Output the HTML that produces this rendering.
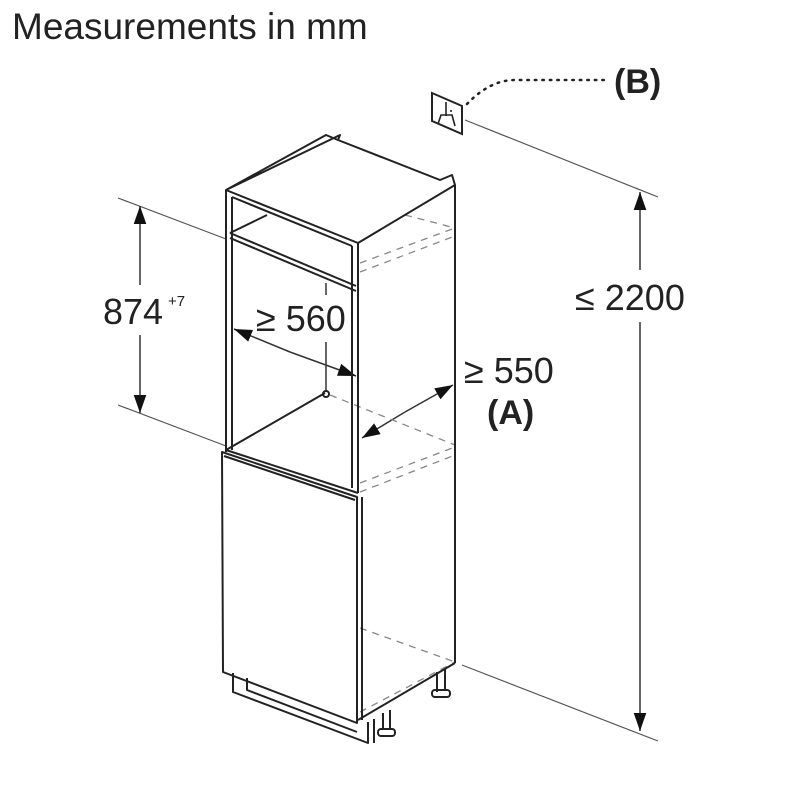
<!DOCTYPE html>
<html><head><meta charset="utf-8"><style>
html,body{margin:0;padding:0;background:#fff;}
svg{display:block;}
text{font-family:"Liberation Sans",Arial,sans-serif;fill:#222;}
</style></head><body>
<svg width="800" height="800" viewBox="0 0 800 800" xmlns="http://www.w3.org/2000/svg">
<defs>
<marker id="ar" viewBox="0 0 10 10" refX="10" refY="5" markerWidth="18" markerHeight="18" markerUnits="userSpaceOnUse" orient="auto"><path d="M0,1.5 L10,5 L0,8.5 z" fill="#111"/></marker>
</defs>
<text x="12" y="39" font-size="37">Measurements in mm</text>

<g stroke="#555" stroke-width="1.2" fill="none">
<line x1="465" y1="120" x2="658" y2="197"/>
<line x1="462" y1="665" x2="658" y2="741"/>
<line x1="118" y1="198" x2="226" y2="239"/>
<line x1="118" y1="405" x2="226" y2="446"/>
</g>
<g stroke="#333" stroke-width="1.5" fill="none">
<line x1="640" y1="270" x2="640" y2="192" marker-end="url(#ar)"/>
<line x1="640" y1="322" x2="640" y2="731" marker-end="url(#ar)"/>
<line x1="140" y1="285" x2="140" y2="206" marker-end="url(#ar)"/>
<line x1="140" y1="335" x2="140" y2="413" marker-end="url(#ar)"/>
<line x1="290" y1="352" x2="234" y2="329" marker-end="url(#ar)"/>
<line x1="290" y1="352" x2="356" y2="376" marker-end="url(#ar)"/>
<line x1="405" y1="412" x2="453" y2="385" marker-end="url(#ar)"/>
<line x1="405" y1="412" x2="362" y2="438" marker-end="url(#ar)"/>
<line x1="326" y1="283" x2="326" y2="295"/>
<line x1="326" y1="342" x2="326" y2="392"/>
</g>
<text x="575" y="310" font-size="36">≤ 2200</text>
<text x="103" y="324" font-size="36">874</text>
<text x="168" y="306" font-size="15">+7</text>
<text x="256" y="331" font-size="36">≥ 560</text>
<text x="464" y="383" font-size="36">≥ 550</text>
<text x="487" y="424" font-size="34" font-weight="bold">(A)</text>
<text x="614" y="93" font-size="34" font-weight="bold">(B)</text>

<path d="M432,93 L462,106 L462,134 L432,121 Z" fill="#fff" stroke="#222" stroke-width="2"/>
<path d="M446,102 V116 M438,124 L441,115 L452,115 L455,126 M451,110 v2" stroke="#222" stroke-width="1.6" fill="none"/>
<path d="M467,104 Q490,80 515,80 L605,80" stroke="#222" stroke-width="2.5" stroke-dasharray="1.5,6" stroke-linecap="round" fill="none"/>

<g stroke="#888" stroke-width="1.3" fill="none" stroke-dasharray="7,6">
<line x1="360" y1="263" x2="455" y2="228"/>
<line x1="360" y1="272" x2="455" y2="236"/>
<line x1="405" y1="215" x2="455" y2="228"/>
<line x1="360" y1="483" x2="455" y2="447"/>
<line x1="360" y1="492" x2="455" y2="455"/>
<line x1="330" y1="395" x2="455" y2="445"/>
<line x1="360" y1="628" x2="455" y2="662"/>
<line x1="360" y1="712" x2="455" y2="662"/>
</g>

<g stroke="#222" stroke-width="2" fill="none" stroke-linejoin="round">
<path d="M226,190 L326,135 L338,140 M340,135 L338,140 L440,180 L452,175 L455,185 L358,243 L226,190 Z"/>
<line x1="226" y1="190" x2="226" y2="452"/>
<line x1="232" y1="197" x2="232" y2="450"/>
<line x1="358" y1="243" x2="358" y2="493"/>
<line x1="352" y1="246" x2="352" y2="488"/>
<line x1="455" y1="185" x2="455" y2="663"/>
<line x1="232" y1="197" x2="352" y2="246"/>
<path d="M230,233 L356,286 M230,238 L356,291 M230,233 L267,215"/>
<path d="M226,450 L325,393"/>
<circle cx="326" cy="394" r="3"/>
<path d="M226,450 L358,493"/>
<path d="M222,452 L357,497 L357,723 L223,672 Z"/>
<path d="M224,456 L355,500"/>
<line x1="362" y1="497" x2="362" y2="720"/>
<line x1="358" y1="720" x2="455" y2="663"/>
<path d="M233,673 L233,692 L368,743 L368,722 M247,678 L247,690 L357,732"/>
<line x1="374" y1="719" x2="374" y2="743"/>
<path d="M383,713 V730 M390,710 V728 M437,672 V692 M445,669 V690"/>
<rect x="378" y="729" width="17" height="7" rx="3"/>
<rect x="432" y="690" width="18" height="7" rx="3"/>
</g>
</svg>
</body></html>
